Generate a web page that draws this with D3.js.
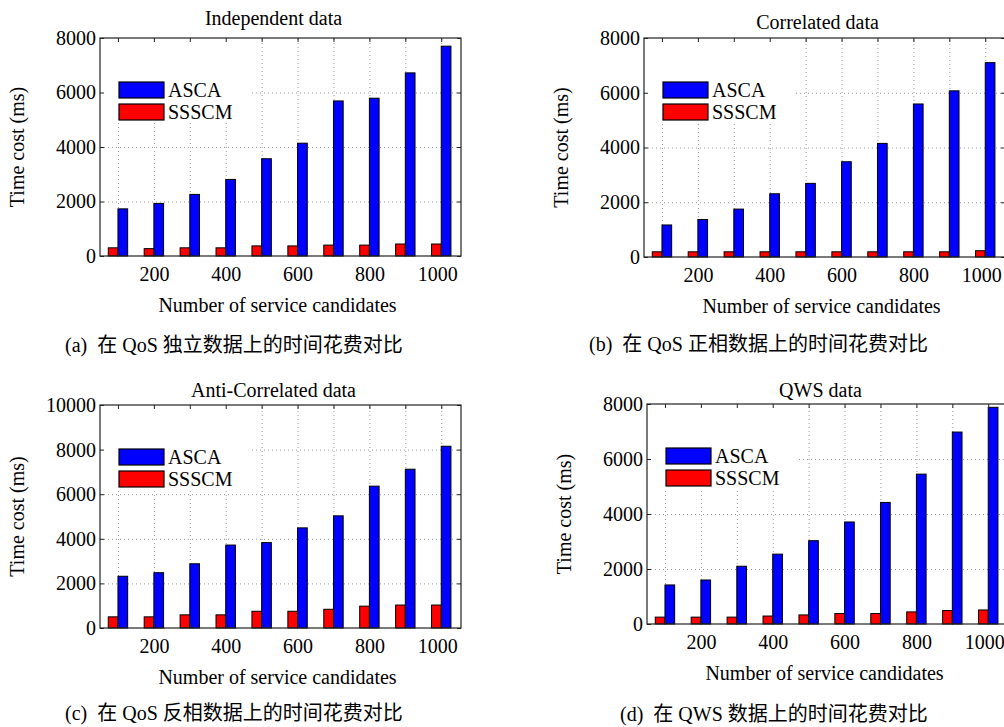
<!DOCTYPE html>
<html>
<head>
<meta charset="utf-8">
<script src="https://cdn.jsdelivr.net/npm/d3@7"></script>
<style>
    body { margin: 0; background: #fff; }
    svg text { font-family: "Liberation Serif", "Times New Roman", "Noto Sans CJK SC", serif; fill: #000; }
</style>
</head>
<body>
<svg width="1004" height="727"></svg>
<script>
const candidates = [100, 200, 300, 400, 500, 600, 700, 800, 900, 1000];
const xTickValues = [200, 400, 600, 800, 1000];
const seriesNames = ["ASCA", "SSSCM"];
const seriesColors = ["#0000ff", "#ff0000"];

const ascaIndependent = [1730, 1930, 2260, 2810, 3570, 4140, 5690, 5790, 6720, 7700];
const ssscmIndependent = [300, 270, 300, 300, 370, 370, 400, 400, 440, 440];
const ascaCorrelated = [1170, 1370, 1750, 2310, 2690, 3480, 4150, 5590, 6070, 7100];
const ssscmCorrelated = [190, 190, 190, 190, 190, 190, 190, 190, 190, 230];
const ascaAnti = [2320, 2480, 2880, 3720, 3830, 4490, 5030, 6360, 7120, 8150];
const ssscmAnti = [500, 500, 590, 590, 750, 750, 840, 980, 1030, 1030];
const ascaQws = [1420, 1600, 2100, 2540, 3030, 3710, 4420, 5450, 6980, 7880];
const ssscmQws = [250, 250, 250, 290, 330, 380, 380, 440, 490, 510];

const yTicks8000 = [0, 2000, 4000, 6000, 8000];
const yTicks10000 = [0, 2000, 4000, 6000, 8000, 10000];

const titles = ["Independent data", "Correlated data", "Anti-Correlated data", "QWS data"];
const captions = [
    "(a)  在 QoS 独立数据上的时间花费对比",
    "(b)  在 QoS 正相数据上的时间花费对比",
    "(c)  在 QoS 反相数据上的时间花费对比",
    "(d)  在 QWS 数据上的时间花费对比"
];
const xLabel = "Number of service candidates";
const yLabel = "Time cost (ms)";

const svg = d3.select("svg");

const panels = [
    { asca: ascaIndependent, ssscm: ssscmIndependent, ticks: yTicks8000, left: 100, top: 38, right: 461, bottom: 256, titleY: 25, captionX: 65, captionY: 352 },
    { asca: ascaCorrelated, ssscm: ssscmCorrelated, ticks: yTicks8000, left: 644, top: 38, right: 1005, bottom: 257, titleY: 29, captionX: 589, captionY: 351 },
    { asca: ascaAnti, ssscm: ssscmAnti, ticks: yTicks10000, left: 100, top: 405, right: 461, bottom: 628, titleY: 397, captionX: 65, captionY: 720 },
    { asca: ascaQws, ssscm: ssscmQws, ticks: yTicks8000, left: 647, top: 404, right: 1008, bottom: 624, titleY: 397, captionX: 620, captionY: 721 }
];

panels.forEach((p, i) => drawPanel(p, i));

function drawPanel(p, i) {
    let g = svg.append("g"),
        width = p.right - p.left,
        height = p.bottom - p.top,
        yMax = p.ticks[p.ticks.length - 1];

    let x = d3.scaleLinear().domain([50, 1055]).range([p.left, p.right]);
    let y = d3.scaleLinear().domain([0, yMax]).range([p.bottom, p.top]);
    let barW = x(127) - x(100);

    // dotted grid
    let grid = g.append("g").attr("class", "grid");
    grid.append("g")
        .attr("transform", "translate(0," + p.bottom + ")")
        .call(d3.axisBottom(x).tickValues(candidates).tickSize(-height).tickFormat(""));
    grid.append("g")
        .attr("transform", "translate(" + p.left + ",0)")
        .call(d3.axisLeft(y).tickValues(p.ticks.slice(1, -1)).tickSize(-width).tickFormat(""));
    grid.selectAll(".domain").remove();
    grid.selectAll("line")
        .attr("stroke", "#9a9a9a")
        .attr("stroke-width", 1)
        .attr("stroke-dasharray", "1,3");

    // legend background hides the grid
    g.append("rect")
        .attr("x", p.left + 1)
        .attr("y", p.top + 1)
        .attr("width", 151)
        .attr("height", 83)
        .attr("fill", "#fff");

    // bars
    let series = [p.ssscm, p.asca];
    series.forEach((values, s) => {
        g.append("g").selectAll("rect")
            .data(values)
            .join("rect")
                .attr("x", (d, k) => s === 0 ? x(candidates[k]) - barW : x(candidates[k]))
                .attr("y", (d) => y(d))
                .attr("width", barW)
                .attr("height", (d) => y(0) - y(d))
                .attr("fill", seriesColors[1 - s])
                .attr("stroke", "#000")
                .attr("stroke-width", 1);
    });

    // box
    g.append("rect")
        .attr("x", p.left)
        .attr("y", p.top)
        .attr("width", width)
        .attr("height", height)
        .attr("fill", "none")
        .attr("stroke", "#222")
        .attr("stroke-width", 1.2);

    // axes
    let axes = [
        g.append("g").attr("transform", "translate(0," + p.bottom + ")")
            .call(d3.axisBottom(x).tickValues(candidates).tickSizeInner(-4).tickSizeOuter(0).tickPadding(11)
                .tickFormat((d) => xTickValues.includes(d) ? d : "")),
        g.append("g").attr("transform", "translate(0," + p.top + ")")
            .call(d3.axisTop(x).tickValues(candidates).tickSizeInner(-4).tickSizeOuter(0).tickFormat("")),
        g.append("g").attr("transform", "translate(" + p.left + ",0)")
            .call(d3.axisLeft(y).tickValues(p.ticks).tickSizeInner(-4).tickSizeOuter(0).tickPadding(4)
                .tickFormat(d3.format("d"))),
        g.append("g").attr("transform", "translate(" + p.right + ",0)")
            .call(d3.axisRight(y).tickValues(p.ticks).tickSizeInner(-4).tickSizeOuter(0).tickFormat(""))
    ];
    axes.forEach((a) => {
        a.attr("font-family", null).attr("font-size", null);
        a.select(".domain").remove();
        a.selectAll("line").attr("stroke", "#222");
        a.selectAll("text").attr("font-size", 20).attr("fill", "#000");
    });
    // last label sits a little left, as in the original
    axes[0].selectAll(".tick text").filter((d) => d === 1000).attr("dx", -4);

    // legend
    let legend = g.append("g").attr("transform", "translate(" + (p.left + 19) + "," + (p.top + 44) + ")");
    seriesNames.forEach((name, s) => {
        legend.append("rect")
            .attr("x", 0)
            .attr("y", s * 22)
            .attr("width", 45)
            .attr("height", 16)
            .attr("fill", seriesColors[s])
            .attr("stroke", "#000")
            .attr("stroke-width", 1.2);
        legend.append("text")
            .attr("x", 49)
            .attr("y", s * 22 + 8)
            .attr("dy", "0.35em")
            .attr("font-size", 20)
            .text(name);
    });

    // texts
    g.append("text")
        .attr("x", (p.left + p.right) / 2 - 7)
        .attr("y", p.titleY)
        .attr("text-anchor", "middle")
        .attr("font-size", 20)
        .text(titles[i]);

    g.append("text")
        .attr("x", (p.left + p.right) / 2 - 3)
        .attr("y", p.bottom + 56)
        .attr("text-anchor", "middle")
        .attr("font-size", 20)
        .text(xLabel);

    g.append("text")
        .attr("transform", "translate(" + (p.left - 76) + "," + ((p.top + p.bottom) / 2) + ") rotate(-90)")
        .attr("text-anchor", "middle")
        .attr("font-size", 20)
        .text(yLabel);

    g.append("text")
        .attr("x", p.captionX)
        .attr("y", p.captionY)
        .attr("font-size", 20)
        .style("white-space", "pre")
        .text(captions[i]);
}
</script>
</body>
</html>
